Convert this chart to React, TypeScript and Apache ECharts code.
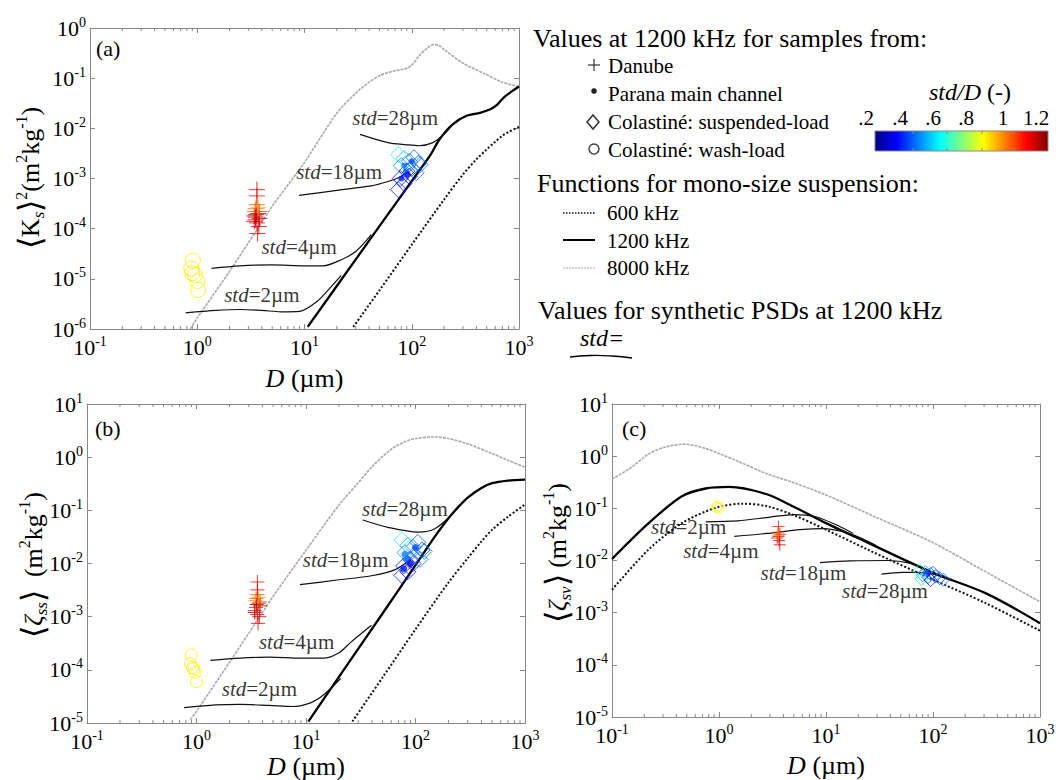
import React, { useEffect, useRef } from 'react';
import * as echarts from 'echarts';

const FONT = 'Liberation Serif';

// ---------------- Panel (a): <Ks>^2 ----------------
const A_D8000 = [0.86, 1, 2, 3.6, 5, 10, 20, 30, 40, 50, 60, 70, 80, 90, 100, 120, 140, 160, 180, 200, 300, 500, 700, 1000];
const A_V8000 = [1.0e-6, 1.66e-6, 1.41e-5, 9.5e-5, 2.8e-4, 2.1e-3, 2.0e-2, 5.0e-2, 8.3e-2, 0.112, 0.129, 0.141, 0.148, 0.158, 0.182, 0.295, 0.398, 0.468, 0.447, 0.372, 0.2, 0.117, 0.083, 0.068];
const A_D1200 = [10.7, 20, 50, 100, 150, 181, 241, 324, 433, 540, 620, 720, 820, 1000];
const A_V1200 = [1.1e-6, 7.2e-6, 1.12e-4, 8.9e-4, 3.0e-3, 6.0e-3, 1.2e-2, 1.78e-2, 2.04e-2, 2.4e-2, 2.9e-2, 4.1e-2, 5.1e-2, 6.8e-2];
const A_D600 = [28.5, 50, 100, 200, 300, 400, 500, 600, 700, 800, 1000];
const A_V600 = [1.1e-6, 5.9e-6, 4.8e-5, 3.8e-4, 1.2e-3, 2.4e-3, 3.8e-3, 5.4e-3, 7.1e-3, 8.5e-3, 1.07e-2];
const A_DSTD2 = [0.78, 1.5, 2.5, 4, 6, 9, 13, 17, 22];
const A_VSTD2 = [2.1e-6, 2.35e-6, 2.45e-6, 2.35e-6, 2.2e-6, 2.25e-6, 3.5e-6, 6.3e-6, 1.17e-5];
const A_DSTD4 = [1.36, 2.5, 5, 10, 15, 22, 30, 42];
const A_VSTD4 = [1.62e-5, 1.82e-5, 1.9e-5, 1.82e-5, 1.82e-5, 2.4e-5, 3.5e-5, 7.6e-5];
const A_DSTD18 = [8.9, 20, 42, 60, 76, 95];
const A_VSTD18 = [4.6e-4, 5.8e-4, 7.1e-4, 8.7e-4, 1.05e-3, 1.41e-3];
const A_DSTD28 = [32.9, 60, 90, 117, 157, 200, 241];
const A_VSTD28 = [7.6e-3, 5.2e-3, 4.7e-3, 4.5e-3, 5.2e-3, 7.6e-3, 1.2e-2];
// [D, value, std/D]
const A_DANUBE = [[3.5, 1.5e-4, 1.1], [3.7, 2.0e-4, 1.12], [3.4, 1.8e-4, 1.08], [3.8, 1.6e-4, 1.15], [3.5, 2.5e-4, 0.98], [3.6, 3.0e-4, 1.0], [3.45, 2.2e-4, 0.95], [3.6, 1.3e-4, 1.1], [3.75, 1.1e-4, 1.13], [3.6, 4.5e-4, 1.05], [3.65, 8e-5, 1.08], [3.55, 1.9e-4, 1.18], [3.8, 2.2e-4, 1.0], [3.4, 1.4e-4, 1.12], [3.6, 6e-4, 1.1], [3.7, 2.6e-4, 0.92], [3.5, 1.7e-4, 1.14]];
const A_PARANA = [[80, 1.0e-3, 0.35], [88, 1.4e-3, 0.42], [100, 2.2e-3, 0.4], [85, 1.8e-3, 0.45], [92, 1.2e-3, 0.3]];
const A_SUSP = [[75, 3.0e-3, 0.62], [85, 2.5e-3, 0.5], [95, 2.2e-3, 0.45], [105, 2.6e-3, 0.42], [115, 2.0e-3, 0.4], [80, 1.8e-3, 0.48], [90, 1.4e-3, 0.38], [100, 1.6e-3, 0.4], [78, 1.0e-3, 0.35], [85, 8e-4, 0.33], [75, 6e-4, 0.36], [95, 1.1e-3, 0.34], [110, 1.3e-3, 0.44], [120, 1.9e-3, 0.45]];
const A_WASH = [[0.91, 2.3e-5, 0.84], [0.88, 1.6e-5, 0.85], [0.95, 1.2e-5, 0.84], [1.0, 9e-6, 0.83], [1.02, 6e-6, 0.84], [0.9, 1.3e-5, 0.85]];
const A_LABELS = [[70, 1.62e-2, '28'], [21, 1.32e-3, '18'], [8.9, 4.3e-5, '4'], [4.0, 4.8e-6, '2']];

// ---------------- Panel (b): <zeta_ss> ----------------
const B_D8000 = [0.88, 1, 2, 3.5, 5, 10, 20, 30, 40, 60, 80, 100, 150, 200, 300, 500, 700, 1000];
const B_V8000 = [1.15e-5, 1.66e-5, 1.38e-4, 7.9e-4, 2.4e-3, 1.78e-2, 0.126, 0.33, 0.66, 1.41, 1.95, 2.24, 2.4, 2.24, 1.78, 1.17, 0.87, 0.65];
const B_D1200 = [10.5, 20, 50, 100, 150, 200, 250, 300, 400, 500, 700, 1000];
const B_V1200 = [1.07e-5, 7.4e-5, 1.15e-3, 9.3e-3, 3.2e-2, 7.1e-2, 0.12, 0.174, 0.263, 0.324, 0.363, 0.38];
const B_D600 = [26.5, 50, 100, 200, 300, 400, 500, 700, 1000];
const B_V600 = [1.07e-5, 7.2e-5, 5.8e-4, 4.4e-3, 1.26e-2, 2.6e-2, 4.3e-2, 7.6e-2, 0.129];
const B_DSTD2 = [0.77, 1.5, 2.5, 4.6, 7.6, 11, 14.5, 20.7];
const B_VSTD2 = [1.95e-5, 2.2e-5, 2.25e-5, 2.15e-5, 2.05e-5, 2.4e-5, 3.4e-5, 6.9e-5];
const B_DSTD4 = [1.34, 2.5, 4.65, 9, 14.5, 20, 25.6, 39.6];
const B_VSTD4 = [1.51e-4, 1.66e-4, 1.74e-4, 1.66e-4, 1.66e-4, 2.1e-4, 3.3e-4, 6.9e-4];
const B_DSTD18 = [8.8, 19.2, 39.6, 64.5, 92];
const B_VSTD18 = [4.0e-3, 4.9e-3, 5.9e-3, 7.6e-3, 1.23e-2];
const B_DSTD28 = [33, 56, 106, 150, 225];
const B_VSTD28 = [6.6e-2, 4.8e-2, 3.9e-2, 4.5e-2, 9.1e-2];
const B_DANUBE = [[3.5, 1.5e-3, 1.1], [3.7, 1.8e-3, 1.12], [3.4, 1.3e-3, 1.08], [3.8, 1.6e-3, 1.15], [3.5, 2.2e-3, 0.98], [3.6, 2.6e-3, 1.0], [3.45, 2.0e-3, 0.95], [3.6, 1.1e-3, 1.1], [3.75, 1.0e-3, 1.13], [3.6, 4.5e-3, 1.05], [3.65, 7.5e-4, 1.08], [3.55, 1.7e-3, 1.18], [3.8, 1.9e-3, 1.0], [3.4, 1.2e-3, 1.12], [3.6, 3.2e-3, 1.1], [3.7, 2.3e-3, 0.92]];
const B_PARANA = [[78, 8e-3, 0.35], [85, 1.2e-2, 0.42], [100, 2.0e-2, 0.4], [80, 1.5e-2, 0.45], [90, 1.0e-2, 0.3]];
const B_SUSP = [[75, 2.8e-2, 0.62], [85, 2.2e-2, 0.5], [95, 2.0e-2, 0.45], [105, 2.5e-2, 0.42], [115, 1.8e-2, 0.4], [80, 1.6e-2, 0.48], [90, 1.2e-2, 0.38], [100, 1.4e-2, 0.4], [78, 9e-3, 0.35], [85, 7e-3, 0.33], [75, 6e-3, 0.36], [95, 1.0e-2, 0.34], [110, 1.2e-2, 0.44], [120, 1.7e-2, 0.45]];
const B_WASH = [[0.9, 1.9e-4, 0.84], [0.88, 1.3e-4, 0.85], [0.95, 1.05e-4, 0.84], [0.97, 9e-5, 0.83], [1.0, 6e-5, 0.84], [0.92, 1.1e-4, 0.85]];
const B_LABELS = [[80, 0.105, '28'], [23, 1.17e-2, '18'], [8.2, 3.4e-4, '4'], [3.75, 4.4e-5, '2']];

// ---------------- Panel (c): <zeta_sv> ----------------
const C_D8000 = [0.1, 0.15, 0.22, 0.31, 0.48, 0.75, 1, 1.5, 2.8, 5, 10, 30, 100, 300, 1000];
const C_V8000 = [0.363, 0.6, 1.1, 1.48, 1.7, 1.4, 1.12, 0.8, 0.46, 0.31, 0.18, 0.066, 0.022, 6.3e-3, 1.62e-3];
const C_D1200 = [0.1, 0.22, 0.45, 0.75, 1.24, 2.8, 5, 10, 24.5, 100, 313, 1000];
const C_V1200 = [1.07e-2, 5.2e-2, 0.17, 0.24, 0.257, 0.186, 0.107, 5.2e-2, 2.2e-2, 5.8e-3, 2.34e-3, 6.3e-4];
const C_D600 = [0.1, 0.22, 0.45, 0.93, 1.66, 2.8, 5, 10, 24.5, 100, 313, 1000];
const C_V600 = [2.75e-3, 1.62e-2, 5.2e-2, 0.102, 0.123, 0.11, 7.4e-2, 3.9e-2, 1.62e-2, 4.3e-3, 1.51e-3, 4.5e-4];
const C_DSTD2 = [0.75, 1.5, 3, 5, 8, 12, 18];
const C_VSTD2 = [5.5e-2, 5.75e-2, 6.8e-2, 7.6e-2, 6.9e-2, 5.0e-2, 3.3e-2];
const C_DSTD4 = [1.39, 2.8, 5.7, 9.5, 15, 22, 30];
const C_VSTD4 = [2.9e-2, 3.3e-2, 3.9e-2, 4.1e-2, 3.5e-2, 2.6e-2, 1.9e-2];
const C_DSTD18 = [8.8, 17, 38, 60, 92, 110];
const C_VSTD18 = [9.1e-3, 9.8e-3, 1.0e-2, 8.9e-3, 6.3e-3, 5.2e-3];
const C_DSTD28 = [33, 52, 73, 105, 130];
const C_VSTD28 = [5.5e-3, 5.9e-3, 5.9e-3, 5.4e-3, 4.9e-3];
const C_DANUBE = [[3.6, 2.9e-2, 1.1], [3.7, 3.2e-2, 1.12], [3.5, 2.7e-2, 1.08], [3.65, 2.4e-2, 1.15], [3.55, 3.5e-2, 0.98], [3.6, 4.5e-2, 1.05], [3.7, 2.0e-2, 1.1], [3.6, 3.0e-2, 0.95]];
const C_PARANA = [[90, 5.5e-3, 0.35], [85, 6e-3, 0.4]];
const C_SUSP = [[75, 6.5e-3, 0.6], [85, 6e-3, 0.5], [95, 5.5e-3, 0.45], [105, 5e-3, 0.42], [115, 4.6e-3, 0.4], [80, 5.2e-3, 0.48], [90, 4.8e-3, 0.38], [100, 5.8e-3, 0.4], [125, 4.3e-3, 0.44], [78, 4.4e-3, 0.55], [95, 4.2e-3, 0.36]];
const C_WASH = [[0.95, 0.105, 0.84], [1.0, 0.1, 0.84], [0.97, 0.11, 0.83]];
const C_LABELS = [[0.52, 4.3e-2, '2'], [1.04, 1.55e-2, '4'], [6.15, 5.75e-3, '18'], [35.6, 2.57e-3, '28']];

// axis ranges
const X_MIN = 0.1, X_MAX = 1000;
const Y_RANGES = [[1e-6, 1], [1e-5, 10], [1e-5, 10]];
const X_MINOR_TICKS = [0.2, 0.3, 0.4, 0.5, 0.6, 0.7, 0.8, 0.9, 2, 3, 4, 5, 6, 7, 8, 9, 20, 30, 40, 50, 60, 70, 80, 90, 200, 300, 400, 500, 600, 700, 800, 900];

// colorbar
const CB_TICKS = ['.2', '.4', '.6', '.8', '1', '1.2'];
const CB_MIN = 0.2, CB_MAX = 1.2;

// legend texts
const LEG_SAMPLES = ['Danube', 'Parana main channel', 'Colastiné: suspended-load', 'Colastiné: wash-load'];
const LEG_FUNCS = ['600 kHz', '1200 kHz', '8000 kHz'];

function jet(v: number) {
  const t = Math.max(0, Math.min(1, (v - CB_MIN) / (CB_MAX - CB_MIN)));
  const c = (x: number) => Math.round(255 * Math.max(0, Math.min(1, x)));
  const r = c(1.5 - Math.abs(4 * t - 3));
  const g = c(1.5 - Math.abs(4 * t - 2));
  const b = c(1.5 - Math.abs(4 * t - 1));
  return `rgb(${r},${g},${b})`;
}

const LINE_STYLES: any = {
  f600: { color: '#111', width: 2, type: [2, 2] },
  f1200: { color: '#000', width: 2.3, type: 'solid' },
  f8000: { color: '#a9a9a9', width: 1.6, type: [3, 1] },
  std: { color: '#111', width: 1.2, type: 'solid' },
};

function lineSeries(p: number, D: number[], V: number[], kind: string) {
  return {
    type: 'line', xAxisIndex: p, yAxisIndex: p, silent: true,
    data: D.map((d, i) => [d, V[i]]),
    showSymbol: false, symbol: 'none', smooth: 0.3,
    lineStyle: LINE_STYLES[kind], z: kind === 'std' ? 4 : 3,
  };
}

const CROSS = 'path://M5,0L5,10M0,5L10,5';

function markSeries(p: number, pts: any[], symbol: string, size: number, filled: boolean) {
  return {
    type: 'scatter', xAxisIndex: p, yAxisIndex: p, silent: true, symbol, symbolSize: size, z: 5,
    data: pts.map((q) => ({
      value: [q[0], q[1]],
      itemStyle: filled
        ? { color: jet(q[2]) }
        : { color: 'rgba(0,0,0,0)', borderColor: jet(q[2]), borderWidth: 1 },
    })),
  };
}

const LABEL_RICH = {
  i: { fontFamily: FONT, fontSize: 21, fontStyle: 'italic', color: '#000' },
  n: { fontFamily: FONT, fontSize: 21, color: '#000' },
};

function labelSeries(p: number, labels: any[]) {
  return {
    type: 'scatter', xAxisIndex: p, yAxisIndex: p, silent: true, symbolSize: 1, z: 6,
    itemStyle: { color: 'rgba(0,0,0,0)' },
    data: labels.map((l) => ({ value: [l[0], l[1]], name: l[2] })),
    label: {
      show: true, position: 'inside',
      formatter: (prm: any) => `{i|std}{n|=${prm.name}µm}`,
      rich: LABEL_RICH,
    },
  };
}

function minorTickSeries(p: number) {
  return {
    type: 'custom', xAxisIndex: p, yAxisIndex: p, silent: true, z: 2, clip: false,
    data: X_MINOR_TICKS.map((v) => [v]),
    renderItem: (params: any, api: any) => {
      const cs = params.coordSys;
      const x = api.coord([api.value(0), Y_RANGES[p][0]])[0];
      const bottom = cs.y + cs.height;
      return {
        type: 'group',
        children: [
          { type: 'line', shape: { x1: x, y1: bottom, x2: x, y2: bottom - 3 }, style: { stroke: FRAME, lineWidth: 1 } },
          { type: 'line', shape: { x1: x, y1: cs.y, x2: x, y2: cs.y + 3 }, style: { stroke: FRAME, lineWidth: 1 } },
        ],
      };
    },
  };
}

const TICK_RICH = {
  b: { fontFamily: FONT, fontSize: 22, color: '#000', lineHeight: 26 },
  s: { fontFamily: FONT, fontSize: 14, color: '#000', lineHeight: 14, verticalAlign: 'top' },
};
const tickFmt = (v: number) => `{b|10}{s|${Math.round(Math.log10(v))}}`;

const GRIDS = [
  { left: 90, top: 28, width: 429, height: 301 },
  { left: 87, top: 404, width: 438, height: 324 },
  { left: 612, top: 404, width: 428, height: 313 },
];
const NAME_GAPS = [36, 29, 35];
const FRAME = '#888';

function buildOption() {
  const xAxis: any[] = [];
  const yAxis: any[] = [];
  for (let p = 0; p < 3; p++) {
    xAxis.push({
      type: 'log', logBase: 10, gridIndex: p, min: X_MIN, max: X_MAX,
      axisLine: { lineStyle: { color: FRAME, width: 1 } },
      axisTick: { inside: true, length: 5, lineStyle: { color: FRAME } },
      splitLine: { show: false },
      axisLabel: { formatter: tickFmt, rich: TICK_RICH, margin: 5, showMinLabel: true, showMaxLabel: true },
      name: '{i|D}{n| (µm)}', nameLocation: 'middle', nameGap: NAME_GAPS[p],
      nameTextStyle: {
        rich: {
          i: { fontFamily: FONT, fontSize: 26, fontStyle: 'italic', color: '#000' },
          n: { fontFamily: FONT, fontSize: 26, color: '#000' },
        },
      },
    });
    yAxis.push({
      type: 'log', logBase: 10, gridIndex: p, min: Y_RANGES[p][0], max: Y_RANGES[p][1],
      axisLine: { lineStyle: { color: FRAME, width: 1 } },
      axisTick: { inside: true, length: 5, lineStyle: { color: FRAME } },
      splitLine: { show: false },
      axisLabel: { formatter: tickFmt, rich: TICK_RICH, margin: 4, showMinLabel: true, showMaxLabel: true },
    });
  }
  for (let p = 0; p < 3; p++) {
    xAxis.push({
      type: 'log', logBase: 10, gridIndex: p, min: X_MIN, max: X_MAX, position: 'top',
      axisLine: { lineStyle: { color: FRAME, width: 1 } },
      axisTick: { inside: true, length: 5, lineStyle: { color: FRAME } },
      axisLabel: { show: false }, splitLine: { show: false },
    });
    yAxis.push({
      type: 'log', logBase: 10, gridIndex: p, min: Y_RANGES[p][0], max: Y_RANGES[p][1], position: 'right',
      axisLine: { lineStyle: { color: FRAME, width: 1 } },
      axisTick: { inside: true, length: 5, lineStyle: { color: FRAME } },
      axisLabel: { show: false }, splitLine: { show: false },
    });
  }

  const panels = [
    { d8: A_D8000, v8: A_V8000, d12: A_D1200, v12: A_V1200, d6: A_D600, v6: A_V600,
      std: [[A_DSTD2, A_VSTD2], [A_DSTD4, A_VSTD4], [A_DSTD18, A_VSTD18], [A_DSTD28, A_VSTD28]],
      dan: A_DANUBE, par: A_PARANA, sus: A_SUSP, wash: A_WASH, lab: A_LABELS,
      sz: { cross: 16, dia: 16, circ: 15, dot: 6 } },
    { d8: B_D8000, v8: B_V8000, d12: B_D1200, v12: B_V1200, d6: B_D600, v6: B_V600,
      std: [[B_DSTD2, B_VSTD2], [B_DSTD4, B_VSTD4], [B_DSTD18, B_VSTD18], [B_DSTD28, B_VSTD28]],
      dan: B_DANUBE, par: B_PARANA, sus: B_SUSP, wash: B_WASH, lab: B_LABELS,
      sz: { cross: 14, dia: 16, circ: 12, dot: 7 } },
    { d8: C_D8000, v8: C_V8000, d12: C_D1200, v12: C_V1200, d6: C_D600, v6: C_V600,
      std: [[C_DSTD2, C_VSTD2], [C_DSTD4, C_VSTD4], [C_DSTD18, C_VSTD18], [C_DSTD28, C_VSTD28]],
      dan: C_DANUBE, par: C_PARANA, sus: C_SUSP, wash: C_WASH, lab: C_LABELS,
      sz: { cross: 12, dia: 13, circ: 10, dot: 5 } },
  ];

  const series: any[] = [];
  panels.forEach((P, p) => {
    series.push(minorTickSeries(p));
    series.push(lineSeries(p, P.d8, P.v8, 'f8000'));
    series.push(lineSeries(p, P.d6, P.v6, 'f600'));
    series.push(lineSeries(p, P.d12, P.v12, 'f1200'));
    P.std.forEach((s) => series.push(lineSeries(p, s[0] as number[], s[1] as number[], 'std')));
    series.push(markSeries(p, P.wash, 'circle', P.sz.circ, false));
    series.push(markSeries(p, P.dan, CROSS, P.sz.cross, false));
    series.push(markSeries(p, P.sus, 'diamond', P.sz.dia, false));
    series.push(markSeries(p, P.par, 'circle', P.sz.dot, true));
    series.push(labelSeries(p, P.lab));
  });

  const yNameRich = (big: number) => ({
    br: { fontFamily: FONT, fontSize: big, color: '#000', lineHeight: 34 },
    it: { fontFamily: FONT, fontSize: 26, fontStyle: 'italic', color: '#000', lineHeight: 34 },
    n: { fontFamily: FONT, fontSize: 26, color: '#000', lineHeight: 34 },
    sub: { fontFamily: FONT, fontSize: 17, fontStyle: 'italic', color: '#000', lineHeight: 22, verticalAlign: 'bottom' },
    sup: { fontFamily: FONT, fontSize: 16, color: '#000', lineHeight: 18, verticalAlign: 'top' },
  });

  const txt = (text: string, x: number, y: number, size: number, extra: any = {}) => ({
    type: 'text', x, y, silent: true,
    style: { text, fontFamily: FONT, fontSize: size, fill: '#000', align: 'left', verticalAlign: 'middle', ...extra },
  });

  const graphic: any[] = [
    // y-axis titles
    { type: 'text', x: 30, y: 178, rotation: Math.PI / 2, silent: true,
      style: { text: '{br|⟨}{n|K}{sub|s}{br|⟩}{sup|2}{n|(m}{sup|2}{n|kg}{sup|-1}{n|)}', rich: yNameRich(32), align: 'center', verticalAlign: 'middle' } },
    { type: 'text', x: 33, y: 565, rotation: Math.PI / 2, silent: true,
      style: { text: '{br|⟨}{it|ζ}{sub|ss}{br|⟩}{n|  (m}{sup|2}{n|kg}{sup|-1}{n|)}', rich: yNameRich(32), align: 'center', verticalAlign: 'middle' } },
    { type: 'text', x: 557, y: 553, rotation: Math.PI / 2, silent: true,
      style: { text: '{br|⟨}{it|ζ}{sub|sv}{br|⟩}{n| (m}{sup|2}{n|kg}{sup|-1}{n|)}', rich: yNameRich(32), align: 'center', verticalAlign: 'middle' } },
    // panel letters
    txt('(a)', 96, 48, 22),
    txt('(b)', 95, 428, 22),
    txt('(c)', 622, 428, 22),
    // legend
    txt('Values at 1200 kHz for samples from:', 533, 38, 26),
    { type: 'line', silent: true, shape: { x1: 588, y1: 65, x2: 600, y2: 65 }, style: { stroke: '#333', lineWidth: 1.2 } },
    { type: 'line', silent: true, shape: { x1: 594, y1: 59, x2: 594, y2: 71 }, style: { stroke: '#333', lineWidth: 1.2 } },
    txt(LEG_SAMPLES[0], 608, 66, 21),
    { type: 'circle', silent: true, shape: { cx: 594, cy: 91, r: 2.8 }, style: { fill: '#222' } },
    txt(LEG_SAMPLES[1], 608, 94, 21),
    { type: 'polygon', silent: true, shape: { points: [[593, 115], [599, 122], [593, 129], [587, 122]] }, style: { fill: 'none', stroke: '#333', lineWidth: 1.5 } },
    txt(LEG_SAMPLES[2], 608, 122, 21),
    { type: 'circle', silent: true, shape: { cx: 594, cy: 149, r: 5 }, style: { fill: 'none', stroke: '#444', lineWidth: 1.5 } },
    txt(LEG_SAMPLES[3], 608, 150, 21),
    txt('Functions for mono-size suspension:', 537, 183, 26),
    { type: 'line', silent: true, shape: { x1: 563, y1: 213, x2: 595, y2: 213 }, style: { stroke: '#111', lineWidth: 1.5, lineDash: [1.5, 1.5] } },
    txt(LEG_FUNCS[0], 607, 213, 21),
    { type: 'line', silent: true, shape: { x1: 563, y1: 240, x2: 595, y2: 240 }, style: { stroke: '#000', lineWidth: 2 } },
    txt(LEG_FUNCS[1], 607, 241, 21),
    { type: 'line', silent: true, shape: { x1: 563, y1: 268, x2: 595, y2: 268 }, style: { stroke: '#aaa', lineWidth: 1, lineDash: [2, 1] } },
    txt(LEG_FUNCS[2], 607, 268, 21),
    txt('Values for synthetic PSDs at 1200 kHz', 538, 310, 26),
    txt('std=', 580, 338, 24, { fontStyle: 'italic' }),
    { type: 'polyline', silent: true, shape: { points: [[570, 357], [590, 355.5], [612, 356], [632, 358]], smooth: 0.5 }, style: { stroke: '#000', lineWidth: 1.3, fill: 'none' } },
    // colorbar
    { type: 'text', x: 970, y: 92, silent: true,
      style: { text: '{i|std/D}{n| (-)}', align: 'center', verticalAlign: 'middle',
        rich: { i: { fontFamily: FONT, fontSize: 24, fontStyle: 'italic', fill: '#000' }, n: { fontFamily: FONT, fontSize: 24, fill: '#000' } } } },
    { type: 'rect', silent: true, shape: { x: 875, y: 131, width: 173, height: 20 },
      style: { stroke: FRAME, lineWidth: 1,
        fill: { type: 'linear', x: 0, y: 0, x2: 1, y2: 0, colorStops: [
          { offset: 0, color: '#000080' }, { offset: 0.125, color: '#0000ff' }, { offset: 0.375, color: '#00ffff' },
          { offset: 0.625, color: '#ffff00' }, { offset: 0.875, color: '#ff0000' }, { offset: 1, color: '#800000' } ] } } },
  ];
  const cbLabelX = [866, 900, 933, 966, 1003, 1036];
  CB_TICKS.forEach((t, i) => graphic.push(txt(t, cbLabelX[i], 118, 21, { align: 'center' })));
  [913, 947, 982, 1013].forEach((x) => {
    graphic.push({ type: 'line', silent: true, shape: { x1: x, y1: 131, x2: x, y2: 134 }, style: { stroke: FRAME, lineWidth: 1 } });
    graphic.push({ type: 'line', silent: true, shape: { x1: x, y1: 148, x2: x, y2: 151 }, style: { stroke: FRAME, lineWidth: 1 } });
  });

  return {
    animation: false,
    backgroundColor: '#fff',
    textStyle: { fontFamily: FONT },
    grid: GRIDS.map((g) => ({ ...g, containLabel: false })),
    xAxis, yAxis, series, graphic,
  };
}

export default function App() {
  const ref = useRef<HTMLDivElement>(null);
  useEffect(() => {
    if (!ref.current) return;
    const chart = echarts.init(ref.current, undefined, { renderer: 'svg' });
    chart.setOption(buildOption() as any);
    return () => chart.dispose();
  }, []);
  return <div ref={ref} style={{ position: 'absolute', left: 0, top: 0, width: 1059, height: 780, background: '#fff' }} />;
}
